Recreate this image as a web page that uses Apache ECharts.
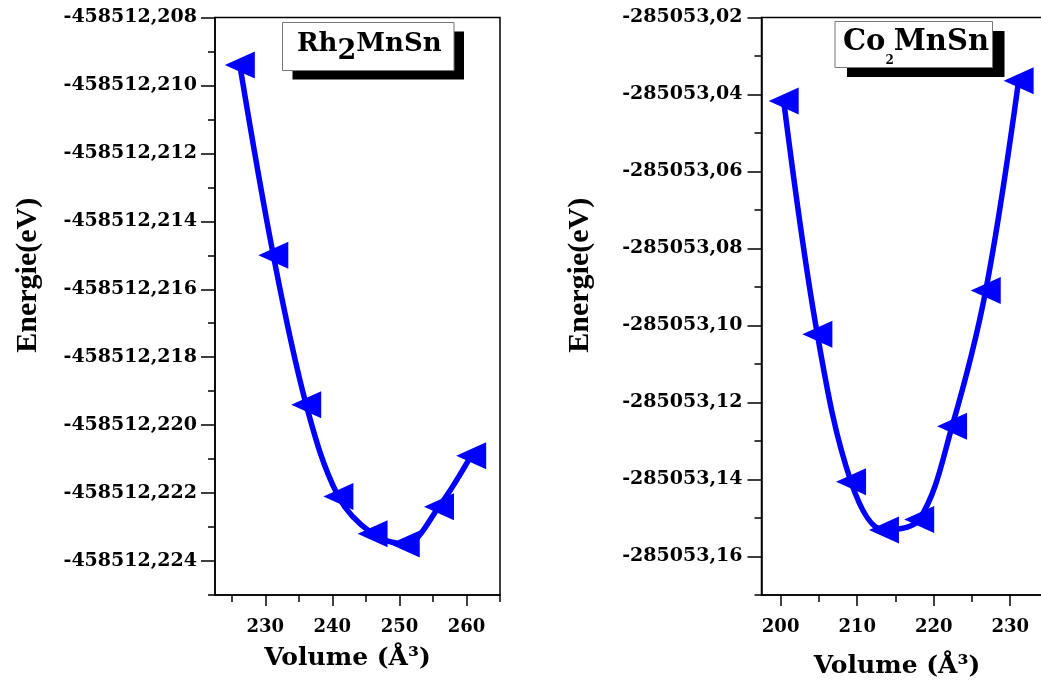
<!DOCTYPE html>
<html><head><meta charset="utf-8">
<script src="https://cdn.jsdelivr.net/npm/echarts@6/dist/echarts.min.js"></script>
<style>html,body{margin:0;padding:0;background:#fff;} #c{width:1041px;height:681px;}</style>
</head><body><div id="c"></div>
<script>
// ---- data ----
const volumeRh = [226.2, 231.2, 236.1, 240.9, 246.0, 250.8, 255.9, 260.7];
const energyRh = [-458512.2094, -458512.2150, -458512.2194, -458512.2221, -458512.2232, -458512.2235, -458512.2224, -458512.2209];
const volumeCo = [200.4, 204.8, 209.2, 213.5, 218.1, 222.4, 226.8, 231.1];
const energyCo = [-285053.0417, -285053.1023, -285053.1406, -285053.1531, -285053.1504, -285053.1262, -285053.0909, -285053.0364];

// ---- tick values ----
const rhXMajor = [230, 240, 250, 260];
const rhXMinor = [225, 235, 245, 255, 265];
const rhYMajor = [-458512.224, -458512.222, -458512.220, -458512.218, -458512.216, -458512.214, -458512.212, -458512.210, -458512.208];
const rhYMinor = [-458512.225, -458512.223, -458512.221, -458512.219, -458512.217, -458512.215, -458512.213, -458512.211, -458512.209];
const coXMajor = [200, 210, 220, 230];
const coXMinor = [205, 215, 225, 235];
const coYMajor = [-285053.16, -285053.14, -285053.12, -285053.10, -285053.08, -285053.06, -285053.04, -285053.02];
const coYMinor = [-285053.17, -285053.15, -285053.13, -285053.11, -285053.09, -285053.07, -285053.05, -285053.03];

const rhXRange = [222.5, 265];
const rhYRange = [-458512.225, -458512.208];
const coXRange = [197.5, 235];
const coYRange = [-285053.17, -285053.02];

const FONT = 'DejaVu Serif';
const BLUE = '#0000ff';

function pairs(xs, ys) { return xs.map((x, i) => [x, ys[i]]); }

function xAxes(grid, range, major, minor, nameGap, namePadRight) {
  return [{
    type: 'value', gridIndex: grid, min: range[0], max: range[1], position: 'bottom',
    name: 'Volume (Å³)', nameLocation: 'middle', nameGap: nameGap,
    nameTextStyle: { fontFamily: FONT, fontWeight: 'bold', fontSize: 25, color: '#000', padding: [0, namePadRight, 0, 0] },
    axisLine: { show: true, lineStyle: { color: '#000', width: 1.5 } },
    axisTick: { show: true, customValues: major, length: 11, lineStyle: { color: '#000', width: 1.5 } },
    axisLabel: { show: true, customValues: major, margin: 23, fontFamily: FONT, fontWeight: 'bold', fontSize: 18, color: '#000' },
    splitLine: { show: false }
  }, {
    type: 'value', gridIndex: grid, min: range[0], max: range[1], position: 'bottom',
    axisLine: { show: false },
    axisTick: { show: true, customValues: minor, length: 7, lineStyle: { color: '#000', width: 1.5 } },
    axisLabel: { show: false }, splitLine: { show: false }
  }];
}

function yAxes(grid, range, major, minor, digits, nameGap, margin) {
  return [{
    type: 'value', gridIndex: grid, min: range[0], max: range[1], position: 'left',
    name: 'Energie(eV)', nameLocation: 'middle', nameGap: nameGap, nameRotate: 90,
    nameTextStyle: { fontFamily: 'Liberation Serif', fontWeight: 'bold', fontSize: 30, color: '#000', padding: [0, 0, 0, 62] },
    axisLine: { show: true, lineStyle: { color: '#000', width: 1.5 } },
    axisTick: { show: true, customValues: major, length: 14, lineStyle: { color: '#000', width: 1.5 } },
    axisLabel: { show: true, customValues: major, margin: margin, fontFamily: FONT, fontWeight: 'bold', fontSize: 19, color: '#000',
      formatter: v => Number(v).toFixed(digits).replace('.', ',') },
    splitLine: { show: false }
  }, {
    type: 'value', gridIndex: grid, min: range[0], max: range[1], position: 'left',
    axisLine: { show: false },
    axisTick: { show: true, customValues: minor, length: 7, lineStyle: { color: '#000', width: 1.5 } },
    axisLabel: { show: false }, splitLine: { show: false }
  }];
}

// decorative framed boxes behind the legend texts (shadow + box)
function legendFrame(x, y, w, h, dx, dy) {
  return [
    { type: 'rect', z: 3, shape: { x: x + dx, y: y + dy, width: w, height: h }, style: { fill: '#000' } },
    { type: 'rect', z: 3, shape: { x: x, y: y, width: w, height: h }, style: { fill: '#fff', stroke: '#777', lineWidth: 1 } }
  ];
}

const chart = echarts.init(document.getElementById('c'), null, { renderer: 'canvas' });
chart.setOption({
  animation: false,
  backgroundColor: '#fff',
  grid: [
    { left: 215, top: 17.5, right: 541, bottom: 86, show: true, borderColor: '#000', borderWidth: 1.5, containLabel: false, outerBoundsMode: 'none' },
    { left: 761.5, top: 17.5, right: -7.5, bottom: 86, show: true, borderColor: '#000', borderWidth: 1.5, containLabel: false, outerBoundsMode: 'none' }
  ],
  graphic: [].concat(legendFrame(282.5, 22.5, 171.5, 48, 10, 9), legendFrame(835, 21.5, 157.5, 46, 12, 9.5)),
  xAxis: [].concat(xAxes(0, rhXRange, rhXMajor, rhXMinor, 51, 20), xAxes(1, coXRange, coXMajor, coXMinor, 59, 16)),
  yAxis: [].concat(yAxes(0, rhYRange, rhYMajor, rhYMinor, 3, 172, 18), yAxes(1, coYRange, coYMajor, coYMinor, 2, 166, 19)),
  legend: [{
    data: ['Rh2MnSn'], left: 283, top: 22.5, orient: 'horizontal', selectedMode: false,
    icon: 'none', itemWidth: 0, itemHeight: 0, padding: [0, 0, 0, 9], z: 5,
    formatter: () => '{a|Rh}{s|2}{a|MnSn}',
    textStyle: { rich: {
      a: { fontFamily: FONT, fontWeight: 'bold', fontSize: 26, lineHeight: 30, color: '#000' },
      s: { fontFamily: FONT, fontWeight: 'bold', fontSize: 27, lineHeight: 14, padding: [16, 0, 0, 0], color: '#000' }
    } }
  }, {
    data: ['Co2MnSn'], left: 835, top: 18.5, orient: 'horizontal', selectedMode: false,
    icon: 'none', itemWidth: 0, itemHeight: 0, padding: [0, 0, 0, 3], z: 5,
    formatter: () => '{a|Co}{s|2}{a|MnSn}',
    textStyle: { rich: {
      a: { fontFamily: FONT, fontWeight: 'bold', fontSize: 29, lineHeight: 30, color: '#000' },
      s: { fontFamily: FONT, fontWeight: 'bold', fontSize: 12, lineHeight: 1, padding: [36, 0, 0, 0], color: '#000' }
    } }
  }],
  series: [{
    name: 'Rh2MnSn', type: 'line', xAxisIndex: 0, yAxisIndex: 0,
    data: pairs(volumeRh, energyRh), smooth: 0.35,
    symbol: 'triangle', symbolSize: [27, 30], symbolRotate: 90,
    lineStyle: { color: BLUE, width: 5.5 }, itemStyle: { color: BLUE }
  }, {
    name: 'Co2MnSn', type: 'line', xAxisIndex: 2, yAxisIndex: 2,
    data: pairs(volumeCo, energyCo), smooth: 0.35,
    symbol: 'triangle', symbolSize: [27, 30], symbolRotate: 90,
    lineStyle: { color: BLUE, width: 5.5 }, itemStyle: { color: BLUE }
  }]
});
</script></body></html>
